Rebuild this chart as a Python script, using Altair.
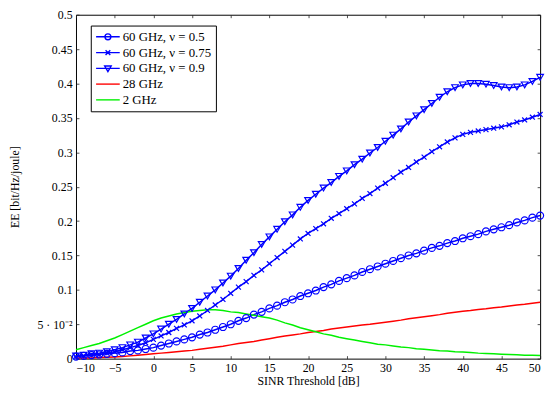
import altair as alt
import pandas as pd

# x positions (SINR threshold, dB)
sinr = list(range(-10, 51))

series_names = ["60 GHz, ν = 0.5", "60 GHz, ν = 0.75", "60 GHz, ν = 0.9", "28 GHz", "2 GHz"]
series_colors = ["#0000ff", "#0000ff", "#0000ff", "#ff0000", "#00f000"]

ee_60_05 = [0.003, 0.004, 0.005, 0.006, 0.007, 0.008, 0.009, 0.011, 0.012, 0.014,
            0.016, 0.019, 0.022, 0.025, 0.028, 0.031, 0.035, 0.038, 0.042, 0.046,
            0.050, 0.055, 0.059, 0.064, 0.068, 0.073, 0.077, 0.082, 0.086, 0.091,
            0.095, 0.099, 0.104, 0.108, 0.113, 0.117, 0.121, 0.126, 0.130, 0.134,
            0.138, 0.142, 0.146, 0.150, 0.153, 0.157, 0.161, 0.164, 0.168, 0.171,
            0.175, 0.178, 0.181, 0.185, 0.188, 0.191, 0.194, 0.198, 0.201, 0.205,
            0.208]

ee_60_075 = [0.003, 0.004, 0.005, 0.006, 0.008, 0.010, 0.013, 0.016, 0.019, 0.023,
             0.028, 0.033, 0.038, 0.044, 0.049, 0.055, 0.062, 0.070, 0.078, 0.086,
             0.095, 0.104, 0.112, 0.121, 0.129, 0.138, 0.147, 0.156, 0.165, 0.174,
             0.182, 0.189, 0.196, 0.204, 0.211, 0.218, 0.225, 0.233, 0.240, 0.248,
             0.255, 0.263, 0.271, 0.278, 0.286, 0.293, 0.301, 0.308, 0.315, 0.321,
             0.326, 0.329, 0.331, 0.333, 0.335, 0.337, 0.340, 0.344, 0.347, 0.351,
             0.355]

ee_60_09 = [0.004, 0.005, 0.007, 0.008, 0.010, 0.013, 0.016, 0.020, 0.024, 0.030,
            0.036, 0.043, 0.050, 0.057, 0.065, 0.073, 0.082, 0.091, 0.100, 0.110,
            0.120, 0.131, 0.143, 0.154, 0.166, 0.177, 0.188, 0.199, 0.209, 0.220,
            0.230, 0.239, 0.248, 0.256, 0.265, 0.273, 0.282, 0.290, 0.299, 0.307,
            0.316, 0.325, 0.334, 0.344, 0.353, 0.362, 0.371, 0.380, 0.388, 0.394,
            0.398, 0.400, 0.400, 0.399, 0.397, 0.395, 0.394, 0.395, 0.398, 0.403,
            0.409]

ee_28 = [0.001, 0.001, 0.001, 0.0015, 0.002, 0.0025, 0.003, 0.004, 0.005, 0.006,
         0.007, 0.008, 0.009, 0.010, 0.011, 0.012, 0.0135, 0.015, 0.0165, 0.018,
         0.020, 0.022, 0.0235, 0.025, 0.027, 0.029, 0.031, 0.033, 0.0345, 0.036,
         0.038, 0.0395, 0.041, 0.043, 0.0445, 0.046, 0.0475, 0.049, 0.050, 0.0515,
         0.053, 0.0545, 0.056, 0.058, 0.0595, 0.061, 0.0625, 0.064, 0.066, 0.0675,
         0.069, 0.070, 0.0715, 0.0725, 0.074, 0.075, 0.0765, 0.078, 0.079, 0.0805,
         0.082]

ee_2 = [0.013, 0.016, 0.019, 0.022, 0.026, 0.030, 0.035, 0.040, 0.045, 0.050,
        0.055, 0.059, 0.062, 0.065, 0.067, 0.069, 0.070, 0.071, 0.071, 0.070,
        0.068, 0.067, 0.065, 0.063, 0.061, 0.059, 0.056, 0.052, 0.049, 0.045,
        0.042, 0.039, 0.036, 0.034, 0.031, 0.029, 0.027, 0.025, 0.023, 0.021,
        0.020, 0.0185, 0.017, 0.016, 0.0145, 0.0135, 0.0125, 0.0115, 0.011, 0.010,
        0.0095, 0.009, 0.008, 0.0075, 0.007, 0.0065, 0.006, 0.0055, 0.005, 0.0048,
        0.0045]

x_ticks = list(range(-10, 55, 5))
y_ticks = [0, 0.05, 0.1, 0.15, 0.2, 0.25, 0.3, 0.35, 0.4, 0.45, 0.5]

all_series = [ee_60_05, ee_60_075, ee_60_09, ee_28, ee_2]
rows = []
for name, vals in zip(series_names, all_series):
    for xv, yv in zip(sinr, vals):
        rows.append({"x": xv, "ee": yv, "series": name})
df = pd.DataFrame(rows)

FONT = "Liberation Serif"
W, H = 471, 349

xscale = alt.Scale(domain=[-10, 50], nice=False)
yscale = alt.Scale(domain=[0, 0.5], nice=False)


def tick_axis(orient, offset, values):
    return alt.Axis(orient=orient, offset=offset, values=values, labels=False, title=None,
                    grid=False, domain=False, ticks=True, tickSize=3, tickColor="#222222",
                    tickWidth=0.8)


xmain = alt.X("x:Q", scale=xscale, axis=alt.Axis(values=x_ticks, title="SINR Threshold [dB]"))
ymain = alt.Y("ee:Q", scale=yscale,
              axis=alt.Axis(values=y_ticks, title="EE [bit/Hz/joule]",
                            labelExpr="abs(datum.value-0.05)<1e-9 ? '5 · 10⁻²' : format(datum.value, '.2~f')"))
xnone = alt.X("x:Q", scale=xscale, axis=None)
ynone = alt.Y("ee:Q", scale=yscale, axis=None)

color_scale = alt.Scale(domain=series_names, range=series_colors)

lines = alt.Chart(df).mark_line(strokeWidth=1.5).encode(
    x=xmain, y=ymain,
    color=alt.Color("series:N", scale=color_scale, legend=None),
    detail="series:N",
)


def markers(name, shape, size, xenc, yenc):
    return alt.Chart(df).transform_filter(alt.datum.series == name).mark_point(
        shape=shape, size=size, filled=False, strokeWidth=1.2, opacity=1, color="#0000ff"
    ).encode(x=xenc, y=yenc)


# inward ticks on all four sides of the frame (pgfplots style)
m1 = markers(series_names[0], "circle", 50,
             alt.X("x:Q", scale=xscale, axis=tick_axis("top", -H, x_ticks)),
             alt.Y("ee:Q", scale=yscale, axis=tick_axis("right", -W, y_ticks)))
m2 = markers(series_names[1], "M-1,-1L1,1M-1,1L1,-1", 25,
             alt.X("x:Q", scale=xscale, axis=tick_axis("bottom", -H, x_ticks)),
             alt.Y("ee:Q", scale=yscale, axis=tick_axis("left", -W, y_ticks)))
m3 = markers(series_names[2], "triangle-down", 45, xnone, ynone)

leg_paths = [
    "M-1,0L3,0M0.5,0A0.5,0.5 0 1,1 1.5,0A0.5,0.5 0 1,1 0.5,0",
    "M-1,0L3,0M0.6,-0.4L1.4,0.4M0.6,0.4L1.4,-0.4",
    "M-1,0L3,0M0.45,-0.4L1.55,-0.4L1,0.55Z",
    "M-1,0L3,0",
    "M-1,0L3,0",
]

legend_kw = dict(
    title=None, orient="none", legendX=15, legendY=11,
    strokeColor="black", fillColor="white", padding=4.4, rowPadding=2,
    labelOffset=14, symbolSize=144, symbolStrokeWidth=1.4,
    labelFont=FONT, labelFontSize=13, labelColor="black", symbolOpacity=1,
    symbolFillColor="transparent",
)

# invisible points that carry the legend (color + shape on the same field)
legend_layer = alt.Chart(df).mark_point(
    filled=False, opacity=0
).encode(
    x=xnone, y=ynone,
    color=alt.Color("series:N", scale=color_scale, legend=alt.Legend(**legend_kw)),
    shape=alt.Shape("series:N", scale=alt.Scale(domain=series_names, range=leg_paths),
                    legend=alt.Legend(**legend_kw)),
)

chart = alt.layer(legend_layer, lines, m1, m2, m3).properties(
    width=W, height=H,
    autosize=alt.AutoSizeParams(type="none"),
    padding={"left": 69, "top": 4, "right": 8, "bottom": 29},
).configure_view(
    stroke="black", strokeWidth=1
).configure_axis(
    labelFont=FONT, titleFont=FONT, labelFontSize=12, titleFontSize=12,
    labelColor="black", titleColor="black", titleFontWeight="normal",
    grid=True, gridColor="#c8c8c8", gridWidth=1,
    domain=False, ticks=False, labelPadding=4,
).configure_axisX(
    titlePadding=2
).configure_axisY(
    titlePadding=16
)

chart.save("out.html", embed_options={"renderer": "svg", "actions": False})
